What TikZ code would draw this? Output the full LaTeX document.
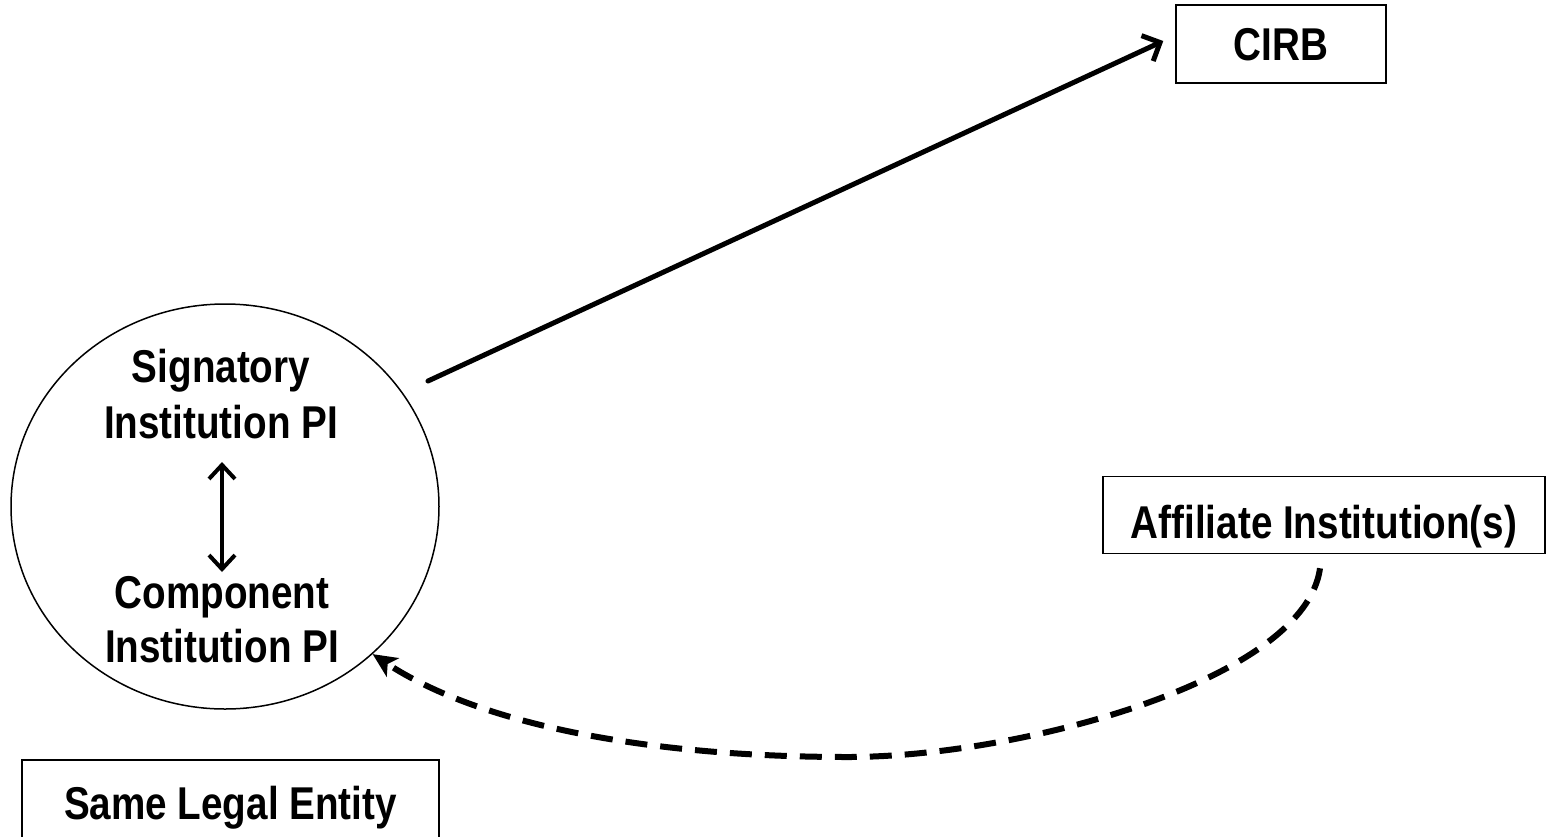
\documentclass[tikz,border=0pt]{standalone}
\usepackage{fontspec}
\setmainfont[FakeStretch=0.84]{Liberation Sans}
\usetikzlibrary{arrows.meta,shapes.geometric}
\tikzset{
  lblfont/.style={font=\fontsize{46}{55}\selectfont\bfseries},
  boxnode/.style={draw, line width=1.5pt, lblfont, inner sep=0pt, text height=33pt, text depth=0pt},
  linelabel/.style={lblfont, anchor=base, inner sep=0pt},
  mainarrow/.style={line width=5pt, line cap=round, -{Straight Barb[length=14pt,width=28pt,line width=5pt]}},
  dblarrow/.style={line width=4pt, {Straight Barb[length=14pt,width=26pt,line width=4pt]}-{Straight Barb[length=14pt,width=26pt,line width=4pt]}},
  dasharrow/.style={line width=6pt, dash pattern=on 22pt off 13pt, -{Stealth[length=24pt,width=22pt,inset=6pt]}}
}
\begin{document}
\begin{tikzpicture}[x=1pt,y=-1pt]
\useasboundingbox (0,0) rectangle (1547,836);
% boxes
\node[boxnode, minimum width=210pt, minimum height=78pt] (cirb) at (1281,44) {CIRB};
\node[boxnode, text height=46pt, minimum width=442pt, minimum height=77pt] (aff) at (1324,515) {Affiliate Institution(s)};
\node[boxnode, minimum width=417pt, minimum height=86pt] (same) at (230.5,803) {Same Legal Entity};
% ellipse with labels
\node[draw, ellipse, line width=1.5pt, minimum width=428pt, minimum height=405pt, inner sep=0pt] (circ) at (225,506.5) {};
\node[linelabel] (sig1) at (221,382) {Signatory};
\node[linelabel] (sig2) at (221,438) {Institution PI};
\node[linelabel] (comp1) at (222,608) {Component};
\node[linelabel] (comp2) at (222,662) {Institution PI};
% connectors
\coordinate (dtop) at (222,462);
\coordinate (dbot) at (222,572);
\draw[dblarrow] (dtop) -- (dbot);
\coordinate (s1) at (428,381);
\draw[mainarrow] (s1) -- ([xshift=-12pt,yshift=3pt]cirb.west);
\coordinate (bot) at (848,757);
\draw[dasharrow] ([xshift=-4pt,yshift=-14pt]aff.south) .. controls (1305,680) and (1020,757) .. (bot)
  .. controls (650,757) and (480,725) .. (circ.-45);
\end{tikzpicture}
\end{document}
